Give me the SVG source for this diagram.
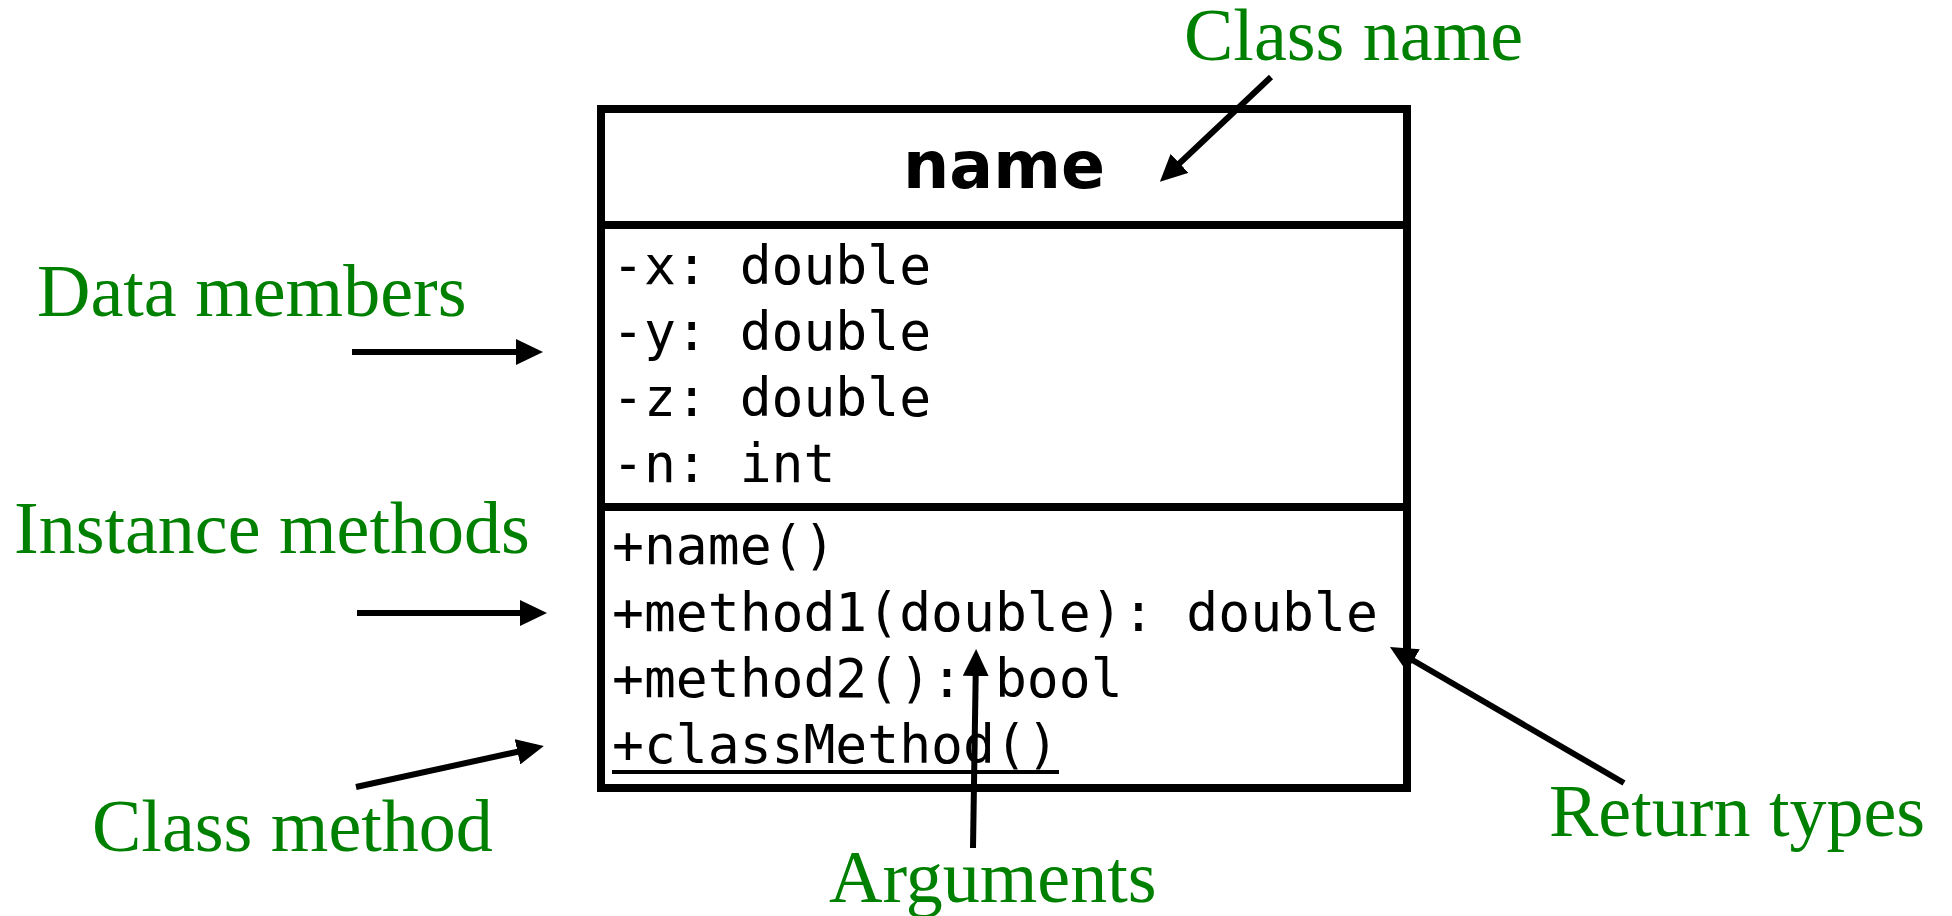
<svg xmlns="http://www.w3.org/2000/svg" width="1952" height="916" viewBox="0 0 1952 916">
  <style>
    .box { fill: #ffffff; stroke: #000000; stroke-width: 8; }
    .div { stroke: #000000; stroke-width: 8; }
    .title { font-family: "DejaVu Sans", sans-serif; font-weight: bold; font-size: 65px; fill: #000000; }
    .mono { font-family: "DejaVu Sans Mono", monospace; font-size: 53px; fill: #000000; }
    .lbl { font-family: "Liberation Serif", serif; font-size: 74px; fill: #008000; }
    .arr { stroke: #000000; stroke-width: 6; fill: none; marker-end: url(#ah); }
  </style>
  <defs>
    <marker id="ah" markerUnits="userSpaceOnUse" markerWidth="27" markerHeight="26" refX="20" refY="13" orient="auto" viewBox="0 0 27 26">
      <path d="M0,0 L27,13 L0,26 z" fill="#000000"/>
    </marker>
  </defs>
  <rect width="1952" height="916" fill="#ffffff"/>

  <g id="class-box">
    <rect class="box" x="601" y="109" width="806" height="679"/>
    <line class="div" x1="601" y1="225" x2="1407" y2="225"/>
    <line class="div" x1="601" y1="507" x2="1407" y2="507"/>
    <text class="title" x="1004" y="188" text-anchor="middle">name</text>
    <text class="mono" x="612" y="284">-x: double</text>
    <text class="mono" x="612" y="350">-y: double</text>
    <text class="mono" x="612" y="416">-z: double</text>
    <text class="mono" x="612" y="482">-n: int</text>
    <text class="mono" x="612" y="564">+name()</text>
    <text class="mono" x="612" y="631">+method1(double): double</text>
    <text class="mono" x="612" y="697">+method2(): bool</text>
    <text class="mono" x="612" y="763">+classMethod()</text>
    <line x1="612" y1="772" x2="1059" y2="772" stroke="#000000" stroke-width="4"/>
  </g>

  <g id="label-class-name"><text class="lbl" x="1184" y="60">Class name</text></g>
  <g id="label-data-members"><text class="lbl" x="37" y="316">Data members</text></g>
  <g id="label-instance-methods"><text class="lbl" x="14" y="553">Instance methods</text></g>
  <g id="label-class-method"><text class="lbl" x="92" y="851">Class method</text></g>
  <g id="label-arguments"><text class="lbl" x="829" y="902">Arguments</text></g>
  <g id="label-return-types"><text class="lbl" x="1549" y="836">Return types</text></g>

  <g id="connectors">
    <line class="arr" x1="1271" y1="77" x2="1165" y2="177"/>
    <line class="arr" x1="352" y1="352" x2="536" y2="352"/>
    <line class="arr" x1="357" y1="613" x2="540" y2="613"/>
    <line class="arr" x1="356" y1="787" x2="537" y2="747.5"/>
    <line class="arr" x1="973" y1="848" x2="976" y2="656"/>
    <line class="arr" x1="1624" y1="783" x2="1396" y2="650.5"/>
  </g>
</svg>
